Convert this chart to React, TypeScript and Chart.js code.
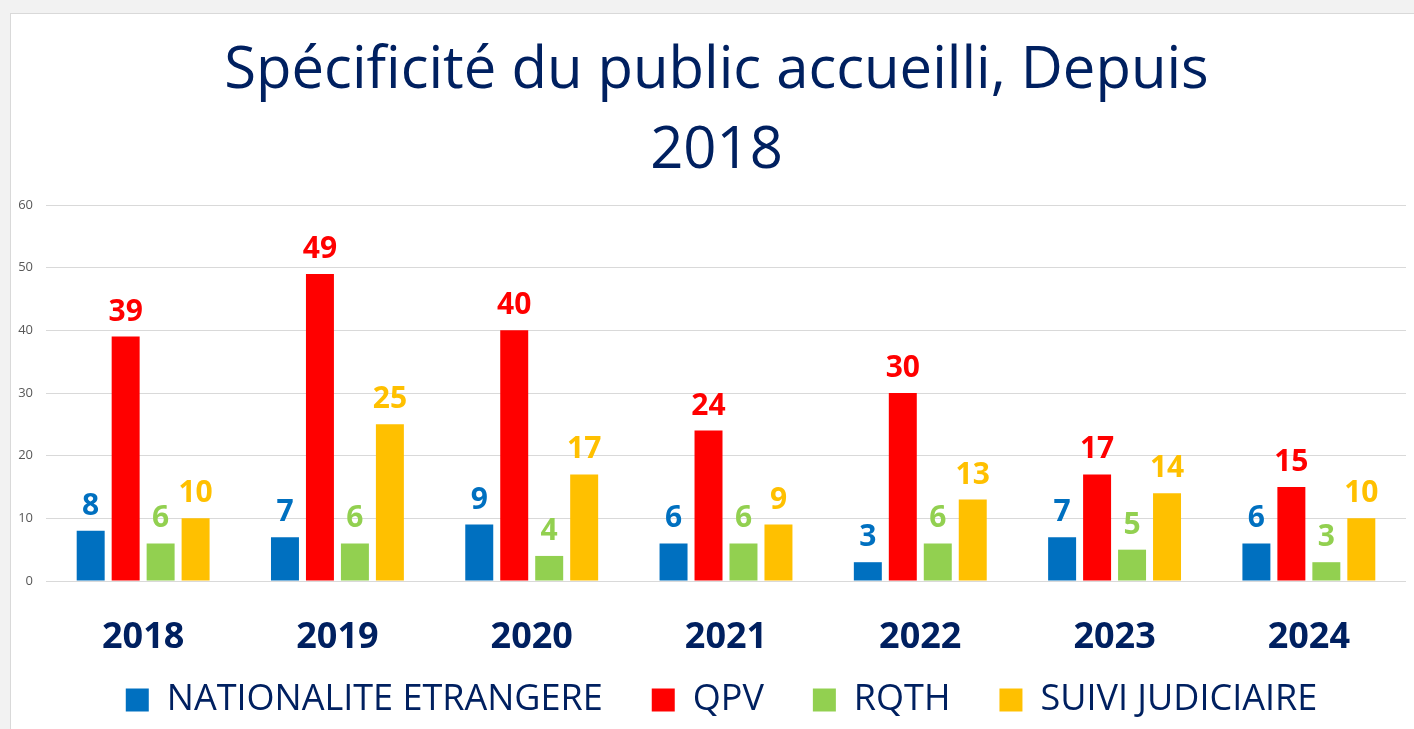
import React, { useEffect, useRef } from "react";
import { Chart, registerables } from "chart.js";

Chart.register(...registerables);

const categories = ["2018", "2019", "2020", "2021", "2022", "2023", "2024"];
const nationaliteEtrangere = [8, 7, 9, 6, 3, 7, 6];
const qpv = [39, 49, 40, 24, 30, 17, 15];
const rqth = [6, 6, 4, 6, 6, 5, 3];
const suiviJudiciaire = [10, 25, 17, 9, 13, 14, 10];
const seriesNames = ["NATIONALITE ETRANGERE", "QPV", "RQTH", "SUIVI JUDICIAIRE"];
const seriesColors = ["#0070C0", "#FF0000", "#92D050", "#FFC000"];
const titleLines = ["Spécificité du public accueilli, Depuis", "2018"];
const yTicks = [0, 10, 20, 30, 40, 50, 60];

const FONT = "'Open Sans', 'Noto Sans', sans-serif";
const NAVY = "#002060";

const valueLabels = {
  id: "valueLabels",
  afterDatasetsDraw(chart: any) {
    const ctx = chart.ctx;
    ctx.save();
    ctx.font = `bold 30px ${FONT}`;
    ctx.textAlign = "center";
    ctx.textBaseline = "alphabetic";
    chart.data.datasets.forEach((ds: any, di: number) => {
      const meta = chart.getDatasetMeta(di);
      ctx.fillStyle = ds.backgroundColor;
      meta.data.forEach((el: any, i: number) => {
        ctx.fillText(String(ds.data[i]), el.x, el.y - 16);
      });
    });
    ctx.restore();
  },
};

// nudge title and legend horizontally to match the reference centring
const nudgeBoxes = {
  id: "nudgeBoxes",
  afterLayout(chart: any) {
    if (chart.titleBlock) chart.titleBlock.left += 16;
    if (chart.legend) chart.legend.left += 26;
  },
};

export default function App() {
  const ref = useRef<HTMLCanvasElement>(null);
  useEffect(() => {
    const data = [nationaliteEtrangere, qpv, rqth, suiviJudiciaire];
    const chart = new Chart(ref.current!, {
      type: "bar",
      data: {
        labels: categories,
        datasets: seriesNames.map((n, i) => ({
          label: n,
          data: data[i],
          backgroundColor: seriesColors[i],
          borderWidth: 0,
          categoryPercentage: 0.72,
          barPercentage: 0.8,
        })),
      },
      options: {
        responsive: false,
        animation: false,
        layout: { padding: { left: 0, right: 8, top: 0, bottom: 1 } },
        plugins: {
          tooltip: { enabled: false },
          title: {
            display: true,
            text: titleLines,
            color: NAVY,
            font: { family: FONT, size: 58, weight: "normal", lineHeight: 80 / 58 },
            padding: { top: 17, bottom: 14 },
          },
          legend: {
            position: "bottom",
            labels: {
              color: NAVY,
              font: { family: FONT, size: 36 },
              boxWidth: 23,
              boxHeight: 23,
              padding: 49,
            },
          },
        },
        scales: {
          x: {
            grid: { display: false, drawTicks: false },
            border: { display: false },
            ticks: {
              color: NAVY,
              font: { family: FONT, size: 36, weight: "bold" },
              mirror: true,
              padding: -78,
            },
            afterFit(scale: any) {
              scale.height = 52;
            },
          },
          y: {
            min: 0,
            max: 60,
            afterBuildTicks(scale: any) {
              scale.ticks = yTicks.map((v) => ({ value: v }));
            },
            grid: { color: "#D9D9D9", lineWidth: 1, drawTicks: false },
            border: { display: false },
            ticks: {
              color: "#595959",
              font: { family: FONT, size: 13 },
              padding: 13,
            },
            afterFit(scale: any) {
              scale.width = 35;
            },
          },
        },
      },
      plugins: [valueLabels, nudgeBoxes],
    });
    return () => chart.destroy();
  }, []);

  return (
    <div style={{ position: "fixed", left: 0, top: 0, width: 1414, height: 729, background: "#F2F2F2", overflow: "hidden" }}>
      <div
        style={{
          position: "absolute",
          left: 10,
          top: 13,
          width: 1404,
          height: 716,
          background: "#FFFFFF",
          borderTop: "1px solid #D9D9D9",
          borderLeft: "1px solid #D9D9D9",
          boxSizing: "border-box",
        }}
      >
        <canvas ref={ref} width={1403} height={715} style={{ display: "block" }} />
      </div>
    </div>
  );
}
